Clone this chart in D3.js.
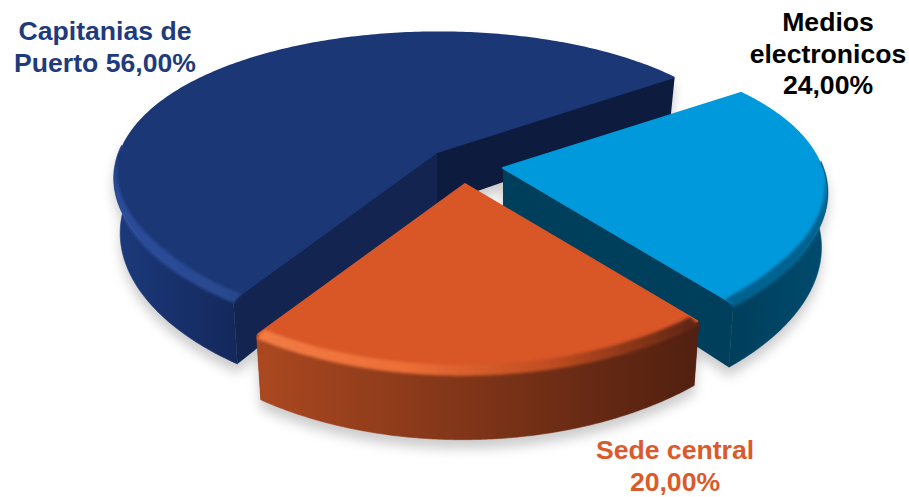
<!DOCTYPE html>
<html><head><meta charset="utf-8">
<script src="https://cdn.jsdelivr.net/npm/d3@7"></script>
<style>html,body{margin:0;padding:0;background:#fff}svg{display:block}text{font-family:"Liberation Sans",Arial,sans-serif;font-weight:700}</style>
</head><body><script>
const categories = ["Capitanias de Puerto", "Medios electronicos", "Sede central"];
const values = [56, 24, 20];
const labelTemplates = [["Capitanias de", "Puerto {v}"], ["Medios", "electronicos", "{v}"], ["Sede central", "{v}"]];
const labelColors = ["#1F3B7B", "#000000", "#DB5A2B"];
const labelPos = [[105, 40], [828, 31], [675, 459]];
const topColors = ["#1B3775", "#0099DC", "#D95627"];
const startCut = ["#12244F", "#003F5C", "#7A3015"];
const endCut = ["#0D1C3E", "#003F5C", "#7A3015"];
const wallStops = [["#1C3A7C", "#14285C"], ["#003F5C", "#004B6E"], ["#AB4820", "#512010"]];
const hiStops = [["#2C4D9C", "#28488E"], ["#00628F", "#00628F"], ["#F27C44", "#EC6E36", "#C04C20", "#5C2412"]];
const centers = [[437, 152], [503, 168], [465, 184]];
const sliceScale = [0.995, 1.002, 1.015];

const W = 909, H = 497, Rx = 320, Ry = 146, kx = 0.168, ky = 0.21, shear = 2, depth = 53, taper = 0.02, bevel = 0.032;
const toRad = d3.scaleLinear().domain([0, 360]).range([0, 2 * Math.PI]);
const pie = d3.pie().sort(null).startAngle(toRad(213)).endAngle(toRad(573));
const arcs = pie(values);

function project(i, r, a, z) {
  const c = centers[i], q = r * sliceScale[i];
  const X = q * Math.sin(a), Y = q * Math.cos(a);
  const wx = 1 / (1 + kx * Y), wy = 1 / (1 + ky * Y);
  return [c[0] + (Rx * X + shear * Y) * wx * (1 - taper * z), c[1] - Ry * Y * wy + depth * z * wy];
}
const line = d3.line();
const angles = (d, front) => d3.range(0, 241)
  .map(n => d.startAngle + (d.endAngle - d.startAngle) * n / 240)
  .filter(a => !front || Math.cos(a) < 0.05);
const rimPts = (i, d, r, z, front) => angles(d, front).map(a => project(i, r, a, z));
const topPath = (i, d, r = 1) => line([centers[i], ...rimPts(i, d, r, 0)]) + "Z";
const wallPath = (i, d) => line([...rimPts(i, d, 1, 0, true), ...rimPts(i, d, 1, 1, true).reverse()]) + "Z";
const cutPath = (i, a) => line([centers[i], project(i, 1, a, 0), project(i, 1, a, 1), project(i, 0, a, 1)]) + "Z";
// crescent along the visible rim: tapers to nothing where the wall turns away from the viewer
const bevelPath = (i, d) => {
  const as = angles(d, true);
  const inner = as.map(a => project(i, 1 - bevel * Math.max(0, Math.min(1, (0.05 - Math.cos(a)) * 1.5)), a, 0));
  const outer = as.map(a => project(i, 1, a, 0.05));
  return line([...inner, ...outer.reverse()]) + "Z";
};
const outlines = (i, d) => [topPath(i, d), wallPath(i, d), cutPath(i, d.startAngle), cutPath(i, d.endAngle)];

const svg = d3.select("body").append("svg").attr("width", W).attr("height", H).attr("viewBox", [0, 0, W, H]);
const defs = svg.append("defs");
const blur = (id, s) => defs.append("filter").attr("id", id).attr("filterUnits", "userSpaceOnUse")
  .attr("x", 0).attr("y", 0).attr("width", W).attr("height", H)
  .append("feGaussianBlur").attr("stdDeviation", s);
blur("shadow", 6); blur("soft", 1.6);

const gradient = (id, x1, x2, stops) => {
  const g = defs.append("linearGradient").attr("id", id).attr("gradientUnits", "userSpaceOnUse")
    .attr("x1", x1).attr("x2", x2).attr("y1", 0).attr("y2", 0);
  stops.forEach((s, i) => g.append("stop").attr("offset", i / (stops.length - 1)).attr("stop-color", s));
};

svg.append("g").attr("transform", "translate(0,9)").attr("filter", "url(#shadow)").attr("opacity", 0.33)
  .selectAll("path").data(arcs.flatMap((d, i) => outlines(i, d))).join("path")
  .attr("fill", "#666").attr("d", p => p);

arcs.forEach((d, i) => {
  const pts = rimPts(i, d, 1, 0, true);
  const xs = d3.extent(pts, p => p[0]);
  gradient("wall" + i, xs[0], xs[1], wallStops[i]);
  gradient("hi" + i, xs[0], xs[1], hiStops[i]);
  const g = svg.append("g").attr("class", "slice").attr("data-category", categories[i]);
  const cp = g.append("clipPath").attr("id", "clip" + i);
  outlines(i, d).forEach(p => cp.append("path").attr("d", p));
  g.append("path").attr("d", cutPath(i, d.startAngle)).attr("fill", startCut[i]);
  g.append("path").attr("d", cutPath(i, d.endAngle)).attr("fill", endCut[i]);
  g.append("path").attr("d", wallPath(i, d)).attr("fill", `url(#wall${i})`)
    .attr("stroke", `url(#wall${i})`).attr("stroke-width", 0.6);
  g.append("path").attr("d", topPath(i, d, 0.994)).attr("fill", topColors[i])
    .attr("stroke", topColors[i]).attr("stroke-width", 2).attr("stroke-linejoin", "round");
  g.append("g").attr("clip-path", `url(#clip${i})`).append("path")
    .attr("d", bevelPath(i, d)).attr("fill", `url(#hi${i})`).attr("filter", "url(#soft)");
});

const fmt = v => d3.format(".2f")(v).replace(".", ",") + "%";
labelTemplates.forEach((lines, i) => {
  const t = svg.append("text").attr("text-anchor", "middle").attr("fill", labelColors[i]).attr("font-size", 26.6);
  lines.forEach((s, j) => t.append("tspan").attr("x", labelPos[i][0]).attr("y", labelPos[i][1] + j * 31.5)
    .text(s.replace("{v}", fmt(values[i]))));
});
</script></body></html>
